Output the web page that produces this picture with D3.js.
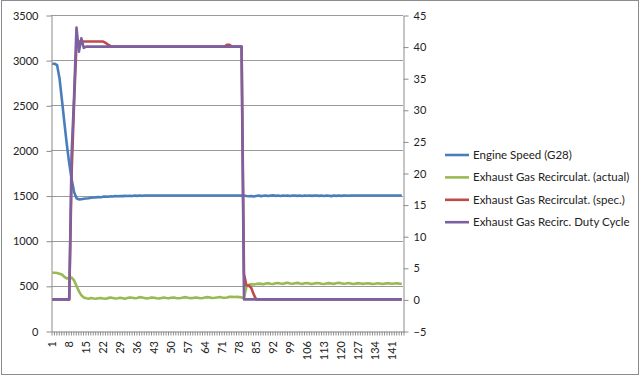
<!DOCTYPE html>
<html>
<head>
<meta charset="utf-8">
<script src="https://cdn.jsdelivr.net/npm/d3@7"></script>
<style>
  body { margin: 0; background: #fff; }
  text { font-family: Lato, "Open Sans", sans-serif; fill: #222; }
</style>
</head>
<body>
<script>
// engine speed, left axis (rpm), samples 1..145
const engineSpeed = [
  2960, 2960, 2945, 2800, 2560, 2310, 2070, 1860, 1680, 1540,
  1470, 1458, 1460, 1465, 1468, 1470, 1475, 1478, 1480, 1485,
  1482, 1488, 1490, 1487, 1492, 1490, 1495, 1493, 1496, 1494,
  1497, 1495, 1498, 1496, 1500, 1497, 1500, 1498, 1500, 1500,
  1500, 1500, 1500, 1500, 1500, 1500, 1500, 1500, 1500, 1500,
  1500, 1500, 1500, 1500, 1500, 1500, 1500, 1500, 1500, 1500,
  1500, 1500, 1500, 1500, 1500, 1500, 1500, 1500, 1500, 1500,
  1500, 1500, 1500, 1500, 1500, 1500, 1500, 1500, 1500, 1500,
  1495, 1492, 1494, 1490, 1496, 1500, 1494, 1498, 1501, 1496,
  1500, 1502, 1497, 1500, 1495, 1500, 1498, 1501, 1496, 1500,
  1500, 1497, 1500, 1496, 1500, 1498, 1501, 1497, 1500, 1500,
  1497, 1500, 1496, 1500, 1498, 1494, 1500, 1497, 1500, 1497,
  1500, 1500, 1498, 1500, 1500, 1500, 1500, 1500, 1500, 1500,
  1500, 1500, 1500, 1500, 1500, 1500, 1500, 1500, 1500, 1500,
  1500, 1500, 1500, 1500, 1500
]
// EGR actual, left axis
const egrActual = [
  645, 645, 642, 635, 625, 600, 582, 588, 592, 560,
  500, 440, 395, 372, 362, 358, 365, 360, 357, 362,
  366, 360, 358, 364, 370, 365, 360, 362, 368, 363,
  358, 365, 372, 368, 362, 365, 375, 370, 365, 360,
  365, 372, 368, 362, 360, 366, 370, 365, 362, 368,
  372, 366, 362, 365, 370, 375, 368, 364, 366, 372,
  368, 363, 366, 371, 375, 370, 366, 368, 372, 376,
  370, 368, 372, 378, 380, 376, 378, 375, 372, 365,
  490, 512, 518, 515, 520, 525, 522, 518, 526, 530,
  524, 520, 528, 532, 526, 522, 530, 534, 527, 523,
  529, 533, 526, 521, 528, 531, 525, 520, 527, 532,
  528, 523, 520, 526, 530, 527, 522, 529, 534, 528,
  524, 527, 531, 526, 521, 525, 530, 527, 522, 526,
  529, 525, 520, 524, 528, 526, 521, 525, 529, 527,
  523, 526, 528, 525, 524
]
// EGR spec, right axis
const egrSpec = [
  0, 0, 0, 0, 0, 0, 0, 0, 20, 31,
  40.5, 40.8, 40.8, 40.8, 40.8, 40.8, 40.8, 40.8, 40.8, 40.8,
  40.8, 40.8, 40.6, 40.3, 40.1, 40, 40, 40, 40, 40,
  40, 40, 40, 40, 40, 40, 40, 40, 40, 40,
  40, 40, 40, 40, 40, 40, 40, 40, 40, 40,
  40, 40, 40, 40, 40, 40, 40, 40, 40, 40,
  40, 40, 40, 40, 40, 40, 40, 40, 40, 40,
  40, 40, 40.3, 40.3, 40, 40, 40, 40, 40, 4,
  2.2, 2.2, 1.8, 0.8, 0, 0, 0, 0, 0, 0,
  0, 0, 0, 0, 0, 0, 0, 0, 0, 0,
  0, 0, 0, 0, 0, 0, 0, 0, 0, 0,
  0, 0, 0, 0, 0, 0, 0, 0, 0, 0,
  0, 0, 0, 0, 0, 0, 0, 0, 0, 0,
  0, 0, 0, 0, 0, 0, 0, 0, 0, 0,
  0, 0, 0, 0, 0
]
// EGR duty cycle, right axis
const egrDuty = [
  0, 0, 0, 0, 0, 0, 0, 0, 23, 32,
  43, 39.2, 41.3, 39.8, 40, 40, 40, 40, 40, 40,
  40, 40, 40, 40, 40, 40, 40, 40, 40, 40,
  40, 40, 40, 40, 40, 40, 40, 40, 40, 40,
  40, 40, 40, 40, 40, 40, 40, 40, 40, 40,
  40, 40, 40, 40, 40, 40, 40, 40, 40, 40,
  40, 40, 40, 40, 40, 40, 40, 40, 40, 40,
  40, 40, 40, 40, 40, 40, 40, 40, 40, 0,
  0, 0, 0, 0, 0, 0, 0, 0, 0, 0,
  0, 0, 0, 0, 0, 0, 0, 0, 0, 0,
  0, 0, 0, 0, 0, 0, 0, 0, 0, 0,
  0, 0, 0, 0, 0, 0, 0, 0, 0, 0,
  0, 0, 0, 0, 0, 0, 0, 0, 0, 0,
  0, 0, 0, 0, 0, 0, 0, 0, 0, 0,
  0, 0, 0, 0, 0
]
const samples = engineSpeed.map((d, i) => i + 1)
const xTickLabels = [1, 8, 15, 22, 29, 36, 43, 50, 57, 64, 71, 78, 85, 92, 99, 106, 113, 120, 127, 134, 141]
const leftTicks = [0, 500, 1000, 1500, 2000, 2500, 3000, 3500]
const rightTicks = [-5, 0, 5, 10, 15, 20, 25, 30, 35, 40, 45]
const seriesNames = ['Engine Speed (G28)', 'Exhaust Gas Recirculat. (actual)', 'Exhaust Gas Recirculat. (spec.)', 'Exhaust Gas Recirc. Duty Cycle']

const colors = ['#4A7EBB', '#98B954', '#BE4B48', '#7D60A0']
const plot = { left: 51, right: 403, top: 15, bottom: 331 }
const gridColor = '#9a9a9a'

const svg = d3.select('body').append('svg')
  .attr('width', 640)
  .attr('height', 377)

svg.append('rect')
  .attr('x', 1.5).attr('y', 0.5)
  .attr('width', 637).attr('height', 374)
  .style('fill', '#fff')
  .style('stroke', '#8c8c8c')

const xBand = d3.scaleBand()
  .domain(samples)
  .range([plot.left, plot.right])
const xMid = i => xBand(i) + xBand.bandwidth() / 2
const xEdge = d3.scaleLinear()
  .domain([0, samples.length])
  .range([plot.left, plot.right])

const yLeft = d3.scaleLinear()
  .domain([0, 3500])
  .range([plot.bottom, plot.top])
const yRight = d3.scaleLinear()
  .domain([-5, 45])
  .range([plot.bottom, plot.top])

// gridlines
svg.append('g')
  .selectAll('line')
  .data(leftTicks.filter(d => d > 0))
  .enter().append('line')
  .attr('x1', plot.left).attr('x2', plot.right)
  .attr('y1', d => Math.round(yLeft(d)) + 0.5)
  .attr('y2', d => Math.round(yLeft(d)) + 0.5)
  .style('stroke', gridColor)

const axisStyle = g => {
  g.selectAll('path, line').style('stroke', '#8c8c8c')
  g.selectAll('text').style('font-size', '11px').style('fill', '#222')
}

const leftAxis = svg.append('g')
  .attr('transform', `translate(${plot.left + 0.5}, 0.5)`)
  .call(d3.axisLeft(yLeft).tickValues(leftTicks).tickFormat(d3.format('d')).tickSize(5).tickSizeOuter(0).tickPadding(8))
  .call(axisStyle)

const rightAxis = svg.append('g')
  .attr('transform', `translate(${plot.right + 0.5}, 0.5)`)
  .call(d3.axisRight(yRight).tickValues(rightTicks).tickSize(5).tickSizeOuter(0).tickPadding(5))
  .call(axisStyle)

// bottom axis: a tick at every category edge
const xTicks = svg.append('g')
  .attr('transform', `translate(0.5, ${plot.bottom + 0.5})`)
  .call(d3.axisBottom(xEdge).tickValues(d3.range(0, samples.length + 1)).tickFormat('').tickSize(4).tickSizeOuter(0))
  .call(axisStyle)

svg.append('g')
  .selectAll('text')
  .data(xTickLabels)
  .enter().append('text')
  .attr('transform', d => `translate(${xMid(d)}, 341) rotate(-90)`)
  .attr('dy', '0.35em')
  .attr('text-anchor', 'end')
  .style('font-size', '11px')
  .text(d => d)

const lineLeft = d3.line()
  .x((d, i) => xMid(samples[i]))
  .y(d => yLeft(d))
const lineRight = d3.line()
  .x((d, i) => xMid(samples[i]))
  .y(d => yRight(d))

const series = [
  { values: engineSpeed, line: lineLeft },
  { values: egrActual, line: lineLeft },
  { values: egrSpec, line: lineRight },
  { values: egrDuty, line: lineRight }
]

svg.append('g')
  .selectAll('path')
  .data(series)
  .enter().append('path')
  .attr('d', d => d.line(d.values))
  .style('fill', 'none')
  .style('stroke', (d, i) => colors[i])
  .style('stroke-width', 2.6)
  .style('stroke-linejoin', 'round')

// legend
const legend = svg.append('g')
  .selectAll('g')
  .data(seriesNames)
  .enter().append('g')
  .attr('transform', (d, i) => `translate(445, ${155 + i * 22.4})`)

legend.append('line')
  .attr('x1', 0).attr('x2', 24)
  .style('stroke', (d, i) => colors[i])
  .style('stroke-width', 2.6)

legend.append('text')
  .attr('x', 28)
  .attr('dy', '0.35em')
  .style('font-size', '11.5px')
  .text(d => d)
</script>
</body>
</html>
